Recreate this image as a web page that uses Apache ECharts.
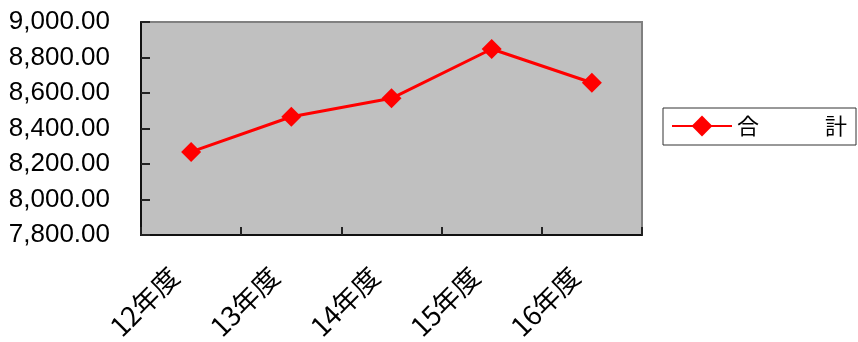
<!DOCTYPE html>
<html>
<head>
<meta charset="utf-8">
<script src="https://cdn.jsdelivr.net/npm/echarts@6/dist/echarts.min.js"></script>
<style>
  html, body { margin: 0; padding: 0; background: #fff; }
  #main { width: 858px; height: 342px; }
</style>
</head>
<body>
<div id="main"></div>
<script>
const categories = ['12年度', '13年度', '14年度', '15年度', '16年度']
const totals = [8268, 8466, 8570, 8848, 8658]
const seriesName = '合　　　計'

const chart = echarts.init(document.getElementById('main'))

const option = {
  animation: false,
  grid: {
    left: 141,
    top: 22,
    right: 216,
    bottom: 107,
    outerBoundsMode: 'none',
    containLabel: false,
    show: true,
    backgroundColor: '#c0c0c0',
    borderColor: '#808080',
    borderWidth: 2,
  },
  legend: {
    left: 663,
    top: 108,
    orient: 'vertical',
    padding: [7, 9, 8, 8],
    borderColor: '#333',
    borderWidth: 1,
    itemWidth: 60,
    itemHeight: 26,
    itemGap: 0,
    textStyle: {
      fontFamily: 'Noto Sans CJK JP',
      fontSize: 22,
      color: '#000',
    },
    data: [seriesName],
  },
  xAxis: {
    type: 'category',
    data: categories,
    boundaryGap: true,
    axisLine: { lineStyle: { color: '#111', width: 2 } },
    axisTick: { show: true, inside: true, length: 8, lineStyle: { color: '#222', width: 2 } },
    axisLabel: {
      rotate: 45,
      margin: 20,
      padding: [0, 24, 0, 0],
      fontFamily: 'Noto Sans CJK JP',
      fontSize: 27,
      color: '#000',
    },
  },
  yAxis: {
    type: 'value',
    min: 7800,
    max: 9000,
    interval: 200,
    splitLine: { show: false },
    axisLine: { show: true, lineStyle: { color: '#111', width: 2 } },
    axisTick: { show: true, inside: true, length: 9, lineStyle: { color: '#222', width: 2 } },
    axisLabel: {
      margin: 31,
      fontFamily: 'Liberation Sans',
      fontSize: 26,
      color: '#000',
      formatter: (v) => v.toLocaleString('en-US', { minimumFractionDigits: 2, maximumFractionDigits: 2 }),
    },
  },
  series: [
    {
      name: seriesName,
      type: 'line',
      data: totals,
      symbol: 'diamond',
      symbolSize: 20,
      lineStyle: { color: '#ff0000', width: 3 },
      itemStyle: { color: '#ff0000' },
    },
  ],
}

chart.setOption(option)
</script>
</body>
</html>
